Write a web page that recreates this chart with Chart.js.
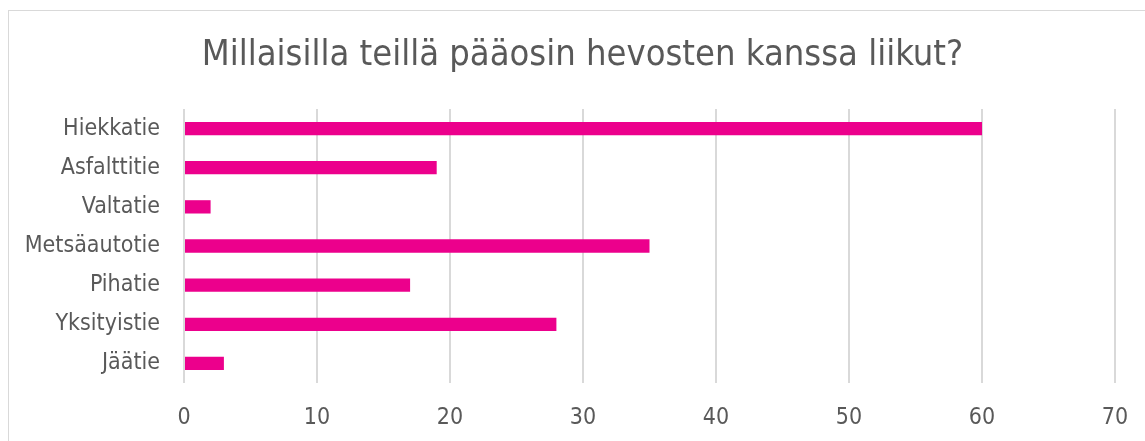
<!DOCTYPE html>
<html>
<head>
<meta charset="utf-8">
<script src="https://cdn.jsdelivr.net/npm/chart.js@4"></script>
<style>
  html, body { margin: 0; padding: 0; background: #fff; overflow: hidden; }
  .frame { position: absolute; left: 8px; top: 10px; width: 1300px; height: 600px; border: 1px solid #d9d9d9; }
  .wrap { position: absolute; left: 0; top: 0; width: 1145px; height: 441px; }
  .title {
    position: absolute; left: 8px; top: 35px; width: 1149px;
    text-align: center; white-space: nowrap;
    font-family: 'DejaVu Sans Condensed', 'DejaVu Sans', Tahoma, sans-serif;
    font-size: 36px; line-height: 36px; color: #595959;
  }
</style>
</head>
<body>
<div class="frame"></div>
<div class="wrap"><canvas id="chart"></canvas></div>
<div class="title">Millaisilla teillä pääosin hevosten kanssa liikut?</div>
<script>
const categories = ["Hiekkatie", "Asfalttitie", "Valtatie", "Metsäautotie", "Pihatie", "Yksityistie", "Jäätie"];
const counts = [60, 19, 2, 35, 17, 28, 3];
const xTicks = [0, 10, 20, 30, 40, 50, 60, 70];

const textColor = "#595959";
const font = "'DejaVu Sans Condensed', 'DejaVu Sans', Tahoma, sans-serif";

new Chart(document.getElementById("chart"), {
  type: "bar",
  data: {
    labels: categories,
    datasets: [{
      data: counts,
      backgroundColor: "#ec008c",
      borderWidth: 0,
      categoryPercentage: 1,
      barPercentage: 0.34
    }]
  },
  options: {
    indexAxis: "y",
    responsive: true,
    maintainAspectRatio: false,
    animation: false,
    layout: { padding: { left: 0, right: 30, top: 109, bottom: 0 } },
    plugins: {
      legend: { display: false },
      tooltip: { enabled: false },
      title: { display: false }
    },
    scales: {
      x: {
        min: 0,
        max: 70,
        afterBuildTicks: (s) => { s.ticks = xTicks.map(v => ({ value: v })); },
        afterFit: (s) => {
          s.height = 58;
          // layout padding already leaves room for the end labels
          s.paddingLeft = 0;
          s.paddingRight = 0;
        },
        grid: { color: "#d9d9d9", lineWidth: 2, drawTicks: false },
        border: { display: false },
        ticks: { color: textColor, font: { family: font, size: 23 }, padding: 21 }
      },
      y: {
        afterFit: (s) => { s.width = 184; },
        grid: { display: false, drawTicks: false },
        border: { display: false },
        ticks: { color: textColor, font: { family: font, size: 23 }, padding: 24 }
      }
    }
  }
});
</script>
</body>
</html>
